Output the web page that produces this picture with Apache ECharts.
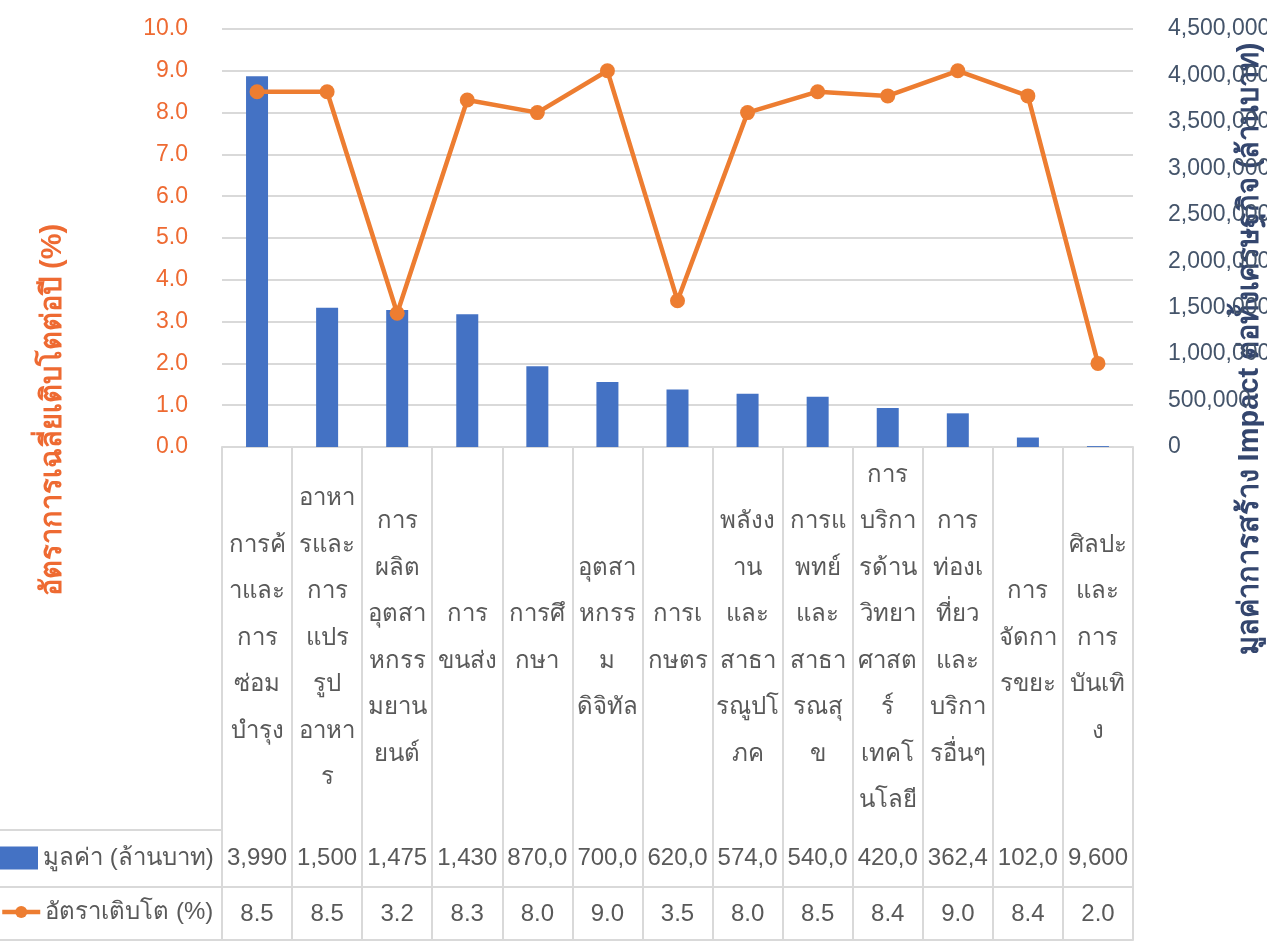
<!DOCTYPE html>
<html lang="th">
<head>
<meta charset="UTF-8">
<title>มูลค่าและอัตราเติบโต</title>
<script src="https://cdn.jsdelivr.net/npm/echarts@6/dist/echarts.min.js"></script>
<style>
  html, body { margin: 0; padding: 0; background: #fff; }
  #chart { width: 1267px; height: 944px; }
</style>
</head>
<body>
<div id="chart"></div>
<script>
var categories = [
    'การค้\nาและ\nการ\nซ่อม\nบำรุง',
    'อาหา\nรและ\nการ\nแปร\nรูป\nอาหา\nร',
    'การ\nผลิต\nอุตสา\nหกรร\nมยาน\nยนต์',
    'การ\nขนส่ง',
    'การศึ\nกษา',
    'อุตสา\nหกรร\nม\nดิจิทัล',
    'การเ\nกษตร',
    'พลังง\nาน\nและ\nสาธา\nรณูปโ\nภค',
    'การแ\nพทย์\nและ\nสาธา\nรณสุ\nข',
    'การ\nบริกา\nรด้าน\nวิทยา\nศาสต\nร์\nเทคโ\nนโลยี',
    'การ\nท่องเ\nที่ยว\nและ\nบริกา\nรอื่นๆ',
    'การ\nจัดกา\nรขยะ',
    'ศิลปะ\nและ\nการ\nบันเทิ\nง'
];
var valueMB = [3990000, 1500000, 1475000, 1430000, 870000, 700000, 620000, 574000, 540000, 420000, 362400, 102000, 9600];
var growthPct = [8.5, 8.5, 3.2, 8.3, 8.0, 9.0, 3.5, 8.0, 8.5, 8.4, 9.0, 8.4, 2.0];

var barName = 'มูลค่า (ล้านบาท)';
var lineName = 'อัตราเติบโต (%)';

var FONT = '"Liberation Sans", Arial, sans-serif';
var GRID = '#d9d9d9';
var TXT = '#595959';
var ORANGE = '#EE6A32';
var NAVY = '#44546A';

function money(v) { return v.toLocaleString('en-US'); }

var chart = echarts.init(document.getElementById('chart'));
var option = {
    animation: false,
    textStyle: { fontFamily: FONT },
    grid: { left: 222, right: 134, top: 29, bottom: 497, containLabel: false, outerBoundsMode: 'none' },
    legend: [
        {
            data: [barName], left: 0, top: 846, padding: 0,
            icon: 'rect', itemWidth: 38, itemHeight: 23,
            textStyle: { fontSize: 24, color: TXT, fontFamily: FONT }
        },
        {
            data: [lineName], left: 0, top: 900, padding: 0,
            itemWidth: 38, itemHeight: 15,
            lineStyle: { width: 4.5 },
            textStyle: { fontSize: 24, color: TXT, fontFamily: FONT }
        }
    ],
    xAxis: [
        {
            type: 'category', data: categories, position: 'bottom',
            axisLine: { lineStyle: { color: GRID, width: 1 } },
            axisTick: { show: true, length: 493, interval: 0, lineStyle: { color: GRID, width: 2 } },
            axisLabel: {
                interval: 0, margin: 191, verticalAlign: 'middle',
                fontSize: 24, lineHeight: 46.5, color: TXT, fontFamily: FONT
            },
            splitLine: { show: false }
        },
        {
            type: 'category', data: categories, position: 'bottom', offset: 383,
            axisLine: { lineStyle: { color: GRID, width: 2 } },
            axisTick: { show: false },
            axisLabel: {
                interval: 0, margin: 28, verticalAlign: 'middle', fontSize: 24, color: TXT,
                formatter: function (v, i) { return money(valueMB[i]).slice(0, 5); }
            }
        },
        {
            type: 'category', data: categories, position: 'bottom', offset: 440,
            axisLine: { lineStyle: { color: GRID, width: 2 } },
            axisTick: { show: false },
            axisLabel: {
                interval: 0, margin: 27, verticalAlign: 'middle', fontSize: 24, color: TXT,
                formatter: function (v, i) { return growthPct[i].toFixed(1); }
            }
        },
        {
            type: 'category', data: categories, position: 'bottom', offset: 493,
            axisLine: { lineStyle: { color: GRID, width: 2 } },
            axisTick: { show: false },
            axisLabel: { show: false }
        }
    ],
    yAxis: [
        {
            type: 'value', min: 0, max: 10, interval: 1, position: 'left',
            name: 'อัตราการเฉลี่ยเติบโตต่อปี (%)',
            nameLocation: 'middle', nameRotate: 90, nameGap: 155, nameMoveOverlap: false,
            nameTextStyle: { fontSize: 29, fontWeight: 'bold', color: ORANGE, padding: [0, 344, 0, 0] },
            axisLine: { show: false }, axisTick: { show: false },
            axisLabel: { margin: 34, fontSize: 23, color: ORANGE, formatter: function (v) { return v.toFixed(1); } },
            splitLine: { lineStyle: { color: GRID, width: 2 } }
        },
        {
            type: 'value', min: 0, max: 4500000, interval: 500000, position: 'right',
            name: 'มูลค่าการสร้าง Impact ต่อทั้งเศรษฐกิจ (ล้านบาท)',
            nameLocation: 'middle', nameRotate: 90, nameGap: 102, nameMoveOverlap: false,
            nameTextStyle: { fontSize: 29, fontWeight: 'bold', color: '#34466E', padding: [0, 222, 0, 0] },
            axisLine: { show: false }, axisTick: { show: false },
            axisLabel: { margin: 35, fontSize: 23, color: NAVY, formatter: money },
            splitLine: { show: false }
        }
    ],
    series: [
        {
            name: barName, type: 'bar', xAxisIndex: 0, yAxisIndex: 1,
            data: valueMB, barWidth: 22,
            itemStyle: { color: '#4472C4' }
        },
        {
            name: lineName, type: 'line', xAxisIndex: 0, yAxisIndex: 0,
            data: growthPct, symbol: 'circle', symbolSize: 15,
            lineStyle: { color: '#ED7D31', width: 4.5 },
            itemStyle: { color: '#ED7D31' }
        }
    ],
    graphic: [
        { type: 'line', shape: { x1: 0, y1: 830, x2: 222, y2: 830 }, style: { stroke: GRID, lineWidth: 2 } },
        { type: 'line', shape: { x1: 0, y1: 887, x2: 222, y2: 887 }, style: { stroke: GRID, lineWidth: 2 } },
        { type: 'line', shape: { x1: 0, y1: 940, x2: 222, y2: 940 }, style: { stroke: GRID, lineWidth: 2 } }
    ]
};
chart.setOption(option);
</script>
</body>
</html>
